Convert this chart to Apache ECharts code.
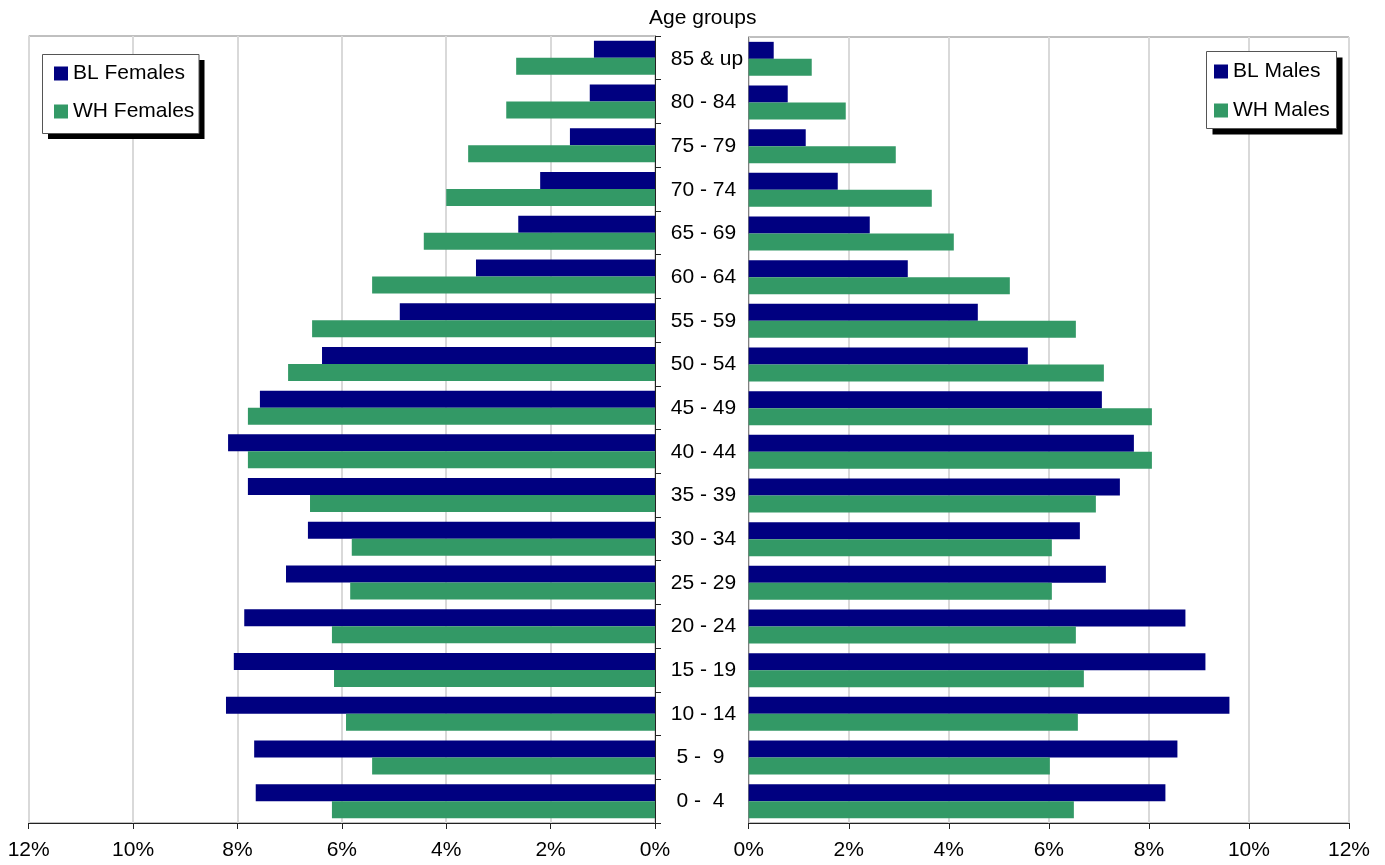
<!DOCTYPE html>
<html>
<head>
<meta charset="utf-8">
<script src="https://cdn.jsdelivr.net/npm/echarts@6/dist/echarts.min.js"></script>
<style>
html,body{margin:0;padding:0;background:#fff;}
#chart{width:1385px;height:865px;}
</style>
</head>
<body>
<div id="chart"></div>
<script>
// Age groups, bottom to top
const categories = [" 0 -  4"," 5 -  9","10 - 14","15 - 19","20 - 24","25 - 29","30 - 34","35 - 39","40 - 44","45 - 49","50 - 54","55 - 59","60 - 64","65 - 69","70 - 74","75 - 79","80 - 84","85 & up"];
const blFemales = [7.65, 7.68, 8.22, 8.07, 7.87, 7.07, 6.65, 7.80, 8.18, 7.57, 6.38, 4.89, 3.43, 2.62, 2.20, 1.63, 1.25, 1.17];
const whFemales = [6.19, 5.42, 5.92, 6.15, 6.19, 5.84, 5.81, 6.61, 7.80, 7.80, 7.03, 6.57, 5.42, 4.43, 4.00, 3.58, 2.85, 2.66];
const blMales   = [8.33, 8.57, 9.61, 9.13, 8.73, 7.14, 6.62, 7.42, 7.70, 7.06, 5.58, 4.58, 3.18, 2.42, 1.78, 1.14, 0.78, 0.50];
const whMales   = [6.50, 6.02, 6.58, 6.70, 6.54, 6.06, 6.06, 6.94, 8.06, 8.06, 7.10, 6.54, 5.22, 4.10, 3.66, 2.94, 1.94, 1.26];
const seriesNames = ["BL Females", "WH Females", "BL Males", "WH Males"];
const axisMin = 0, axisMax = 12, axisStep = 2;
const titleText = "Age groups";

const FONT = "'Liberation Sans', Arial, sans-serif";
const NAVY = "#000080";
const GREEN = "#339966";

const chart = echarts.init(document.getElementById('chart'), null, {renderer: 'canvas'});

function xAxisCfg(gridIndex, inverse) {
  return {
    type: 'value', gridIndex: gridIndex, min: axisMin, max: axisMax, interval: axisStep, inverse: inverse,
    axisLine: {show: true, onZero: false, lineStyle: {color: '#222', width: 1}},
    axisTick: {show: true, length: 6, lineStyle: {color: '#222'}},
    axisLabel: {formatter: '{value}%', fontFamily: FONT, fontSize: 21, color: '#000', margin: 17},
    splitLine: {show: true, lineStyle: {color: '#d9d9d9', width: 2}}
  };
}

function legendBox(x, y, w, h, off) {
  return [
    {type: 'rect', z: 5, silent: true, shape: {x: x + off, y: y + off, width: w, height: h}, style: {fill: '#000'}},
    {type: 'rect', z: 6, silent: true, shape: {x: x, y: y, width: w, height: h}, style: {fill: '#fff', stroke: '#555', lineWidth: 1}}
  ];
}

const option = {
  animation: false,
  backgroundColor: '#fff',
  textStyle: {fontFamily: FONT},
  graphic: [
    {type: 'text', left: 703 - 54, top: 8, style: {text: titleText, font: "21px " + FONT, fill: '#000'}}
  ].concat(legendBox(42.5, 54.5, 156.5, 79, 5.5)).concat(legendBox(1206.5, 51.5, 130, 77, 6)),
  grid: [
    {left: 28.7, right: 730, top: 36, bottom: 42, show: true, borderColor: '#808080', borderWidth: 1, backgroundColor: 'transparent'},
    {left: 748.7, right: 36, top: 37, bottom: 42, show: true, borderColor: '#808080', borderWidth: 1, backgroundColor: 'transparent'}
  ],
  legend: [
    {
      data: [seriesNames[0], seriesNames[1]], orient: 'vertical', left: 43, top: 55, z: 20,
      padding: [8, 6, 12, 11], itemGap: 17, itemWidth: 14, itemHeight: 14,
      textStyle: {fontFamily: FONT, fontSize: 21, color: '#000'},
      icon: 'rect', selectedMode: false
    },
    {
      data: [seriesNames[2], seriesNames[3]], orient: 'vertical', left: 1207, top: 53, z: 20,
      padding: [8, 6, 12, 7], itemGap: 18, itemWidth: 14, itemHeight: 14,
      textStyle: {fontFamily: FONT, fontSize: 21, color: '#000'},
      icon: 'rect', selectedMode: false
    }
  ],
  xAxis: [xAxisCfg(0, true), xAxisCfg(1, false)],
  yAxis: [
    {
      type: 'category', gridIndex: 0, data: categories, position: 'right',
      axisLine: {show: true, lineStyle: {color: '#222', width: 1}},
      axisTick: {show: true, length: 6, inside: false, lineStyle: {color: '#222'}},
      axisLabel: {show: false},
      splitLine: {show: false}
    },
    {
      type: 'category', gridIndex: 1, data: categories, position: 'left',
      axisLine: {show: true, lineStyle: {color: '#808080', width: 1}},
      axisTick: {show: false},
      axisLabel: {show: true, align: 'left', margin: 78, fontFamily: FONT, fontSize: 21, color: '#000', interval: 0},
      splitLine: {show: false}
    }
  ],
  series: [
    {name: seriesNames[0], type: 'bar', xAxisIndex: 0, yAxisIndex: 0, data: blFemales, barWidth: 17, barGap: '0%', itemStyle: {color: NAVY}},
    {name: seriesNames[1], type: 'bar', xAxisIndex: 0, yAxisIndex: 0, data: whFemales, barWidth: 17, barGap: '0%', itemStyle: {color: GREEN}},
    {name: seriesNames[2], type: 'bar', xAxisIndex: 1, yAxisIndex: 1, data: blMales, barWidth: 17, barGap: '0%', itemStyle: {color: NAVY}},
    {name: seriesNames[3], type: 'bar', xAxisIndex: 1, yAxisIndex: 1, data: whMales, barWidth: 17, barGap: '0%', itemStyle: {color: GREEN}}
  ]
};
chart.setOption(option);
</script>
</body>
</html>
